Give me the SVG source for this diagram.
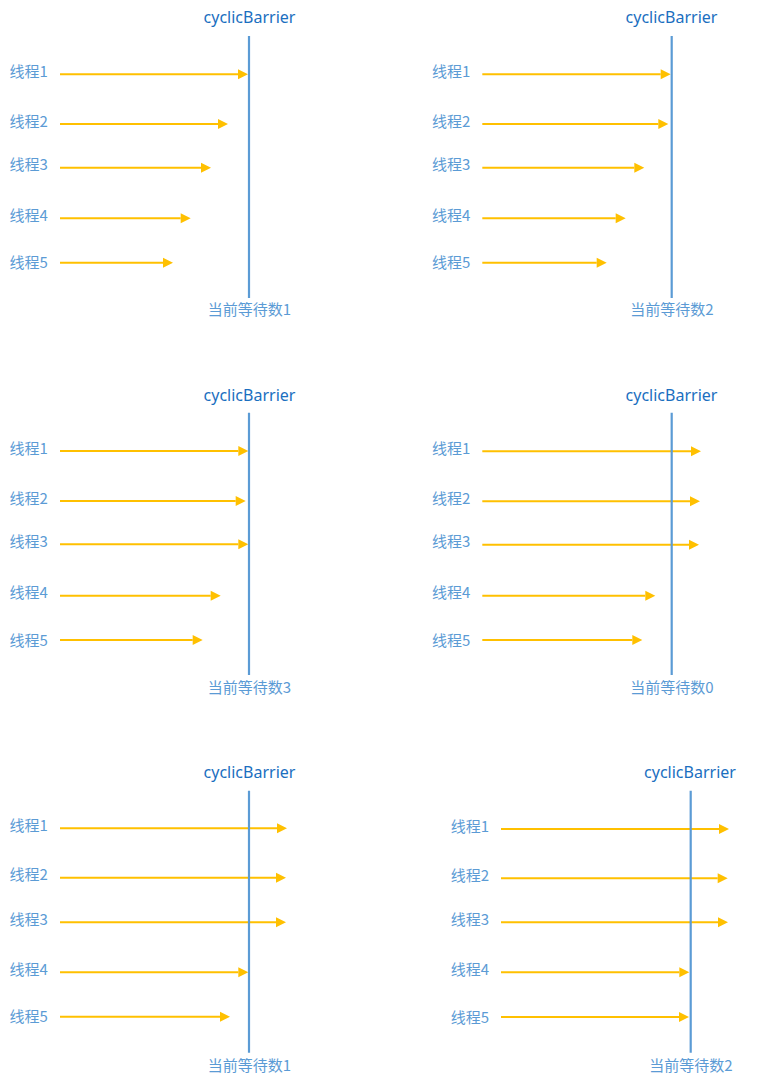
<svg xmlns="http://www.w3.org/2000/svg" width="769" height="1083" viewBox="0 0 769 1083">
<style>
.title{font-family:"Noto Sans","Open Sans","Noto Sans CJK SC",sans-serif;font-size:16px;fill:#1b6fbf;text-anchor:middle}
.lbl{font-family:"Noto Sans CJK SC","Noto Sans",sans-serif;font-size:15px;fill:#5b9bd5}
.cnt{font-family:"Noto Sans CJK SC","Noto Sans",sans-serif;font-size:15px;fill:#5b9bd5;text-anchor:middle}
.bar{stroke:#5b9bd5;stroke-width:2.2;fill:none}
.arr{stroke:#ffc000;stroke-width:2;fill:none;marker-end:url(#ah)}
</style>
<defs>
<marker id="ah" markerUnits="userSpaceOnUse" markerWidth="10" markerHeight="10" refX="0" refY="5" orient="auto" overflow="visible">
<path d="M0,0 L10,5 L0,10 z" fill="#ffc000"/>
</marker>
</defs>
<rect width="769" height="1083" fill="#ffffff"/>
<g id="connectors">
<line class="arr" x1="60" y1="74.3" x2="238" y2="74.3"/>
<line class="arr" x1="60" y1="124" x2="218" y2="124"/>
<line class="arr" x1="60" y1="167.7" x2="201" y2="167.7"/>
<line class="arr" x1="60" y1="218.3" x2="180.7" y2="218.3"/>
<line class="arr" x1="60" y1="262.7" x2="163" y2="262.7"/>
<line class="arr" x1="482.3" y1="74.3" x2="660.7" y2="74.3"/>
<line class="arr" x1="482.3" y1="124" x2="658.3" y2="124"/>
<line class="arr" x1="482.3" y1="167.7" x2="634.3" y2="167.7"/>
<line class="arr" x1="482.3" y1="218.3" x2="615.7" y2="218.3"/>
<line class="arr" x1="482.3" y1="262.7" x2="596.7" y2="262.7"/>
<line class="arr" x1="60" y1="451" x2="238.3" y2="451"/>
<line class="arr" x1="60" y1="501" x2="235.7" y2="501"/>
<line class="arr" x1="60" y1="544.3" x2="238.3" y2="544.3"/>
<line class="arr" x1="60" y1="595.7" x2="210.7" y2="595.7"/>
<line class="arr" x1="60" y1="640" x2="192.7" y2="640"/>
<line class="arr" x1="482.3" y1="451.3" x2="691" y2="451.3"/>
<line class="arr" x1="482.3" y1="501.3" x2="690" y2="501.3"/>
<line class="arr" x1="482.3" y1="544.7" x2="689" y2="544.7"/>
<line class="arr" x1="482.3" y1="595.7" x2="645.3" y2="595.7"/>
<line class="arr" x1="482.3" y1="640" x2="632.3" y2="640"/>
<line class="arr" x1="60" y1="828.3" x2="277" y2="828.3"/>
<line class="arr" x1="60" y1="877.7" x2="276" y2="877.7"/>
<line class="arr" x1="60" y1="922.3" x2="276" y2="922.3"/>
<line class="arr" x1="60" y1="972.3" x2="238.3" y2="972.3"/>
<line class="arr" x1="60" y1="1016.7" x2="220" y2="1016.7"/>
<line class="arr" x1="501" y1="829" x2="719" y2="829"/>
<line class="arr" x1="501" y1="878.3" x2="717.7" y2="878.3"/>
<line class="arr" x1="501" y1="922.3" x2="718" y2="922.3"/>
<line class="arr" x1="501" y1="972.3" x2="679.3" y2="972.3"/>
<line class="arr" x1="501" y1="1017" x2="679" y2="1017"/>
</g>
<g id="panel1">
<g id="p1-barrier"><line class="bar" x1="249" y1="36" x2="249" y2="298"/></g>
<g id="p1-title"><text class="title" x="249.5" y="22.5">cyclicBarrier</text></g>
<g id="p1-t1"><text class="lbl" x="9.5" y="77">线程1</text></g>
<g id="p1-t2"><text class="lbl" x="9.5" y="126.7">线程2</text></g>
<g id="p1-t3"><text class="lbl" x="9.5" y="170.4">线程3</text></g>
<g id="p1-t4"><text class="lbl" x="9.5" y="221">线程4</text></g>
<g id="p1-t5"><text class="lbl" x="9.5" y="268.2">线程5</text></g>
<g id="p1-count"><text class="cnt" x="249.5" y="315">当前等待数1</text></g>
</g>
<g id="panel2">
<g id="p2-barrier"><line class="bar" x1="671.7" y1="36" x2="671.7" y2="298"/></g>
<g id="p2-title"><text class="title" x="671.5" y="22.5">cyclicBarrier</text></g>
<g id="p2-t1"><text class="lbl" x="432" y="77">线程1</text></g>
<g id="p2-t2"><text class="lbl" x="432" y="126.7">线程2</text></g>
<g id="p2-t3"><text class="lbl" x="432" y="170.4">线程3</text></g>
<g id="p2-t4"><text class="lbl" x="432" y="221">线程4</text></g>
<g id="p2-t5"><text class="lbl" x="432" y="268.2">线程5</text></g>
<g id="p2-count"><text class="cnt" x="672" y="315">当前等待数2</text></g>
</g>
<g id="panel3">
<g id="p3-barrier"><line class="bar" x1="249" y1="412.7" x2="249" y2="675"/></g>
<g id="p3-title"><text class="title" x="249.5" y="400.5">cyclicBarrier</text></g>
<g id="p3-t1"><text class="lbl" x="9.5" y="453.7">线程1</text></g>
<g id="p3-t2"><text class="lbl" x="9.5" y="503.7">线程2</text></g>
<g id="p3-t3"><text class="lbl" x="9.5" y="547">线程3</text></g>
<g id="p3-t4"><text class="lbl" x="9.5" y="598.4">线程4</text></g>
<g id="p3-t5"><text class="lbl" x="9.5" y="645.5">线程5</text></g>
<g id="p3-count"><text class="cnt" x="249.5" y="693">当前等待数3</text></g>
</g>
<g id="panel4">
<g id="p4-barrier"><line class="bar" x1="671.7" y1="412.7" x2="671.7" y2="675"/></g>
<g id="p4-title"><text class="title" x="671.5" y="400.5">cyclicBarrier</text></g>
<g id="p4-t1"><text class="lbl" x="432" y="454">线程1</text></g>
<g id="p4-t2"><text class="lbl" x="432" y="504">线程2</text></g>
<g id="p4-t3"><text class="lbl" x="432" y="547.4">线程3</text></g>
<g id="p4-t4"><text class="lbl" x="432" y="598.4">线程4</text></g>
<g id="p4-t5"><text class="lbl" x="432" y="645.5">线程5</text></g>
<g id="p4-count"><text class="cnt" x="672" y="693">当前等待数0</text></g>
</g>
<g id="panel5">
<g id="p5-barrier"><line class="bar" x1="249" y1="790.7" x2="249" y2="1052.7"/></g>
<g id="p5-title"><text class="title" x="249.5" y="777.5">cyclicBarrier</text></g>
<g id="p5-t1"><text class="lbl" x="9.5" y="831">线程1</text></g>
<g id="p5-t2"><text class="lbl" x="9.5" y="880.4">线程2</text></g>
<g id="p5-t3"><text class="lbl" x="9.5" y="925">线程3</text></g>
<g id="p5-t4"><text class="lbl" x="9.5" y="975">线程4</text></g>
<g id="p5-t5"><text class="lbl" x="9.5" y="1022.2">线程5</text></g>
<g id="p5-count"><text class="cnt" x="249.5" y="1071">当前等待数1</text></g>
</g>
<g id="panel6">
<g id="p6-barrier"><line class="bar" x1="690.7" y1="790.7" x2="690.7" y2="1052.7"/></g>
<g id="p6-title"><text class="title" x="690" y="777.5">cyclicBarrier</text></g>
<g id="p6-t1"><text class="lbl" x="450.7" y="831.7">线程1</text></g>
<g id="p6-t2"><text class="lbl" x="450.7" y="881">线程2</text></g>
<g id="p6-t3"><text class="lbl" x="450.7" y="925">线程3</text></g>
<g id="p6-t4"><text class="lbl" x="450.7" y="975">线程4</text></g>
<g id="p6-t5"><text class="lbl" x="450.7" y="1022.5">线程5</text></g>
<g id="p6-count"><text class="cnt" x="691" y="1071">当前等待数2</text></g>
</g>
</svg>
